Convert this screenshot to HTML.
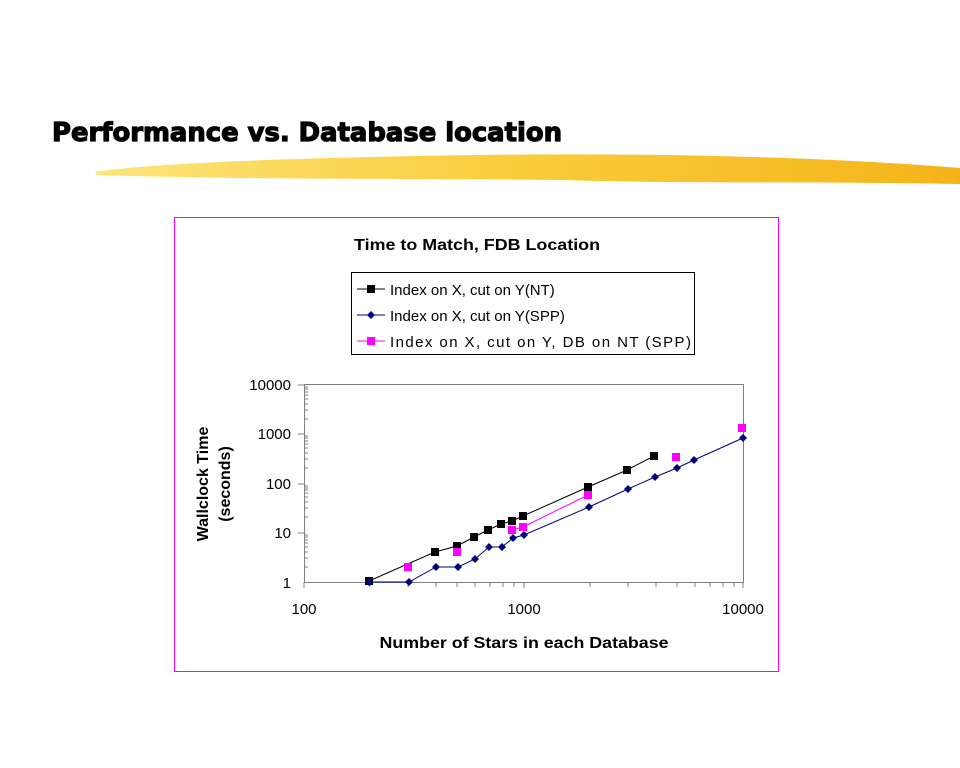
<!DOCTYPE html>
<html><head><style>body{margin:0;background:#fff}svg{display:block}</style></head><body>
<svg width="960" height="768" xmlns="http://www.w3.org/2000/svg" font-family="Liberation Sans, Arial, sans-serif">
<defs><linearGradient id="g" x1="0" x2="1"><stop offset="0" stop-color="#fde47a"/><stop offset="0.5" stop-color="#f9cc3a"/><stop offset="1" stop-color="#f5b31a"/></linearGradient></defs>
<text x="52" y="141" font-size="26" font-weight="bold" fill="#000" stroke="#000" stroke-width="1.2" style="font-family:'DejaVu Sans',sans-serif" textLength="510" lengthAdjust="spacingAndGlyphs">Performance vs. Database location</text>
<path d="M95,172 C150,163 300,158 420,156 C600,152 800,155 960,168 L960,184 C800,181 700,184 560,180 C400,178 250,180 97,175 Z" fill="url(#g)"/>
<rect x="174.5" y="217.5" width="604" height="454" fill="#fff" stroke="#f0f" stroke-width="1"/>
<text x="477" y="250" font-size="16" font-weight="bold" text-anchor="middle" textLength="246" lengthAdjust="spacingAndGlyphs">Time to Match, FDB Location</text>
<rect x="351.5" y="272.5" width="343" height="82" fill="#fff" stroke="#000"/>
<g font-size="15">
<line x1="357" y1="289" x2="385" y2="289" stroke="#000"/><rect x="367" y="285" width="8" height="8"/>
<text x="390" y="295">Index on X, cut on Y(NT)</text>
<line x1="357" y1="315" x2="385" y2="315" stroke="#000080"/><path d="M371,311 l4,4 -4,4 -4,-4z" fill="#000080"/>
<text x="390" y="321">Index on X, cut on Y(SPP)</text>
<line x1="357" y1="341" x2="385" y2="341" stroke="#f0f"/><rect x="367" y="337" width="8" height="8" fill="#f0f"/>
<text x="390" y="347" textLength="301" lengthAdjust="spacing">Index on X, cut on Y, DB on NT (SPP)</text>
</g>
<rect x="304.5" y="384.5" width="439" height="198" fill="#fff" stroke="#808080"/>
<g stroke="#808080">
<line x1="304" y1="582" x2="304" y2="588"/><line x1="524" y1="582" x2="524" y2="588"/><line x1="743" y1="582" x2="743" y2="588"/>
<line x1="298" y1="385" x2="304" y2="385"/><line x1="298" y1="434" x2="304" y2="434"/><line x1="298" y1="484" x2="304" y2="484"/><line x1="298" y1="533" x2="304" y2="533"/>
<path d="M370,582v5 M408,582v5 M436,582v5 M457,582v5 M475,582v5 M490,582v5 M503,582v5 M514,582v5 M590,582v5 M628,582v5 M656,582v5 M677,582v5 M695,582v5 M710,582v5 M723,582v5 M734,582v5"/>
<path d="M304,567h4 M304,558h4 M304,552h4 M304,547h4 M304,543h4 M304,540h4 M304,537h4 M304,535h4
M304,517h4 M304,508h4 M304,502h4 M304,497h4 M304,493h4 M304,490h4 M304,488h4 M304,486h4
M304,468h4 M304,459h4 M304,453h4 M304,448h4 M304,444h4 M304,441h4 M304,438h4 M304,436h4
M304,419h4 M304,410h4 M304,404h4 M304,399h4 M304,395h4 M304,392h4 M304,389h4 M304,387h4"/>
</g>
<g font-size="15" text-anchor="end">
<text x="291" y="390">10000</text><text x="291" y="439">1000</text><text x="291" y="489">100</text><text x="291" y="538">10</text><text x="291" y="588">1</text>
</g>
<g font-size="15" text-anchor="middle">
<text x="304" y="614">100</text><text x="524" y="614">1000</text><text x="743" y="614">10000</text>
</g>
<text x="524" y="648" font-size="16" font-weight="bold" text-anchor="middle" textLength="289" lengthAdjust="spacingAndGlyphs">Number of Stars in each Database</text>
<text transform="translate(208,484) rotate(-90)" font-size="16" font-weight="bold" text-anchor="middle">Wallclock Time</text>
<text transform="translate(230,484) rotate(-90)" font-size="16" font-weight="bold" text-anchor="middle">(seconds)</text>
<polyline fill="none" stroke="#000" points="369,581 435,552 457,546 474,537 488,530 501,524 512,521 523,516 588,487 627,470 654,456"/>
<g fill="#000">
<rect x="365" y="577" width="8" height="8"/><rect x="431" y="548" width="8" height="8"/><rect x="453" y="542" width="8" height="8"/><rect x="470" y="533" width="8" height="8"/><rect x="484" y="526" width="8" height="8"/><rect x="497" y="520" width="8" height="8"/><rect x="508" y="517" width="8" height="8"/><rect x="519" y="512" width="8" height="8"/><rect x="584" y="483" width="8" height="8"/><rect x="623" y="466" width="8" height="8"/><rect x="650" y="452" width="8" height="8"/>
</g>
<polyline fill="none" stroke="#000080" points="369,582 409,582 436,567 458,567 475,559 489,547 502,547 513,538 524,535 589,507 628,489 655,477 677,468 694,460 743,438"/>
<g fill="#000080">
<path d="M369,578l4,4-4,4-4-4z M409,578l4,4-4,4-4-4z M436,563l4,4-4,4-4-4z M458,563l4,4-4,4-4-4z M475,555l4,4-4,4-4-4z M489,543l4,4-4,4-4-4z M502,543l4,4-4,4-4-4z M513,534l4,4-4,4-4-4z M524,531l4,4-4,4-4-4z M589,503l4,4-4,4-4-4z M628,485l4,4-4,4-4-4z M655,473l4,4-4,4-4-4z M677,464l4,4-4,4-4-4z M694,456l4,4-4,4-4-4z M743,434l4,4-4,4-4-4z"/>
</g>
<polyline fill="none" stroke="#f0f" points="512,530 523,527 588,495"/>
<g fill="#f0f">
<rect x="404" y="563" width="8" height="8"/><rect x="453" y="548" width="8" height="8"/><rect x="508" y="526" width="8" height="8"/><rect x="519" y="523" width="8" height="8"/><rect x="584" y="491" width="8" height="8"/><rect x="672" y="453" width="8" height="8"/><rect x="738" y="424" width="8" height="8"/>
</g>
</svg>
</body></html>
